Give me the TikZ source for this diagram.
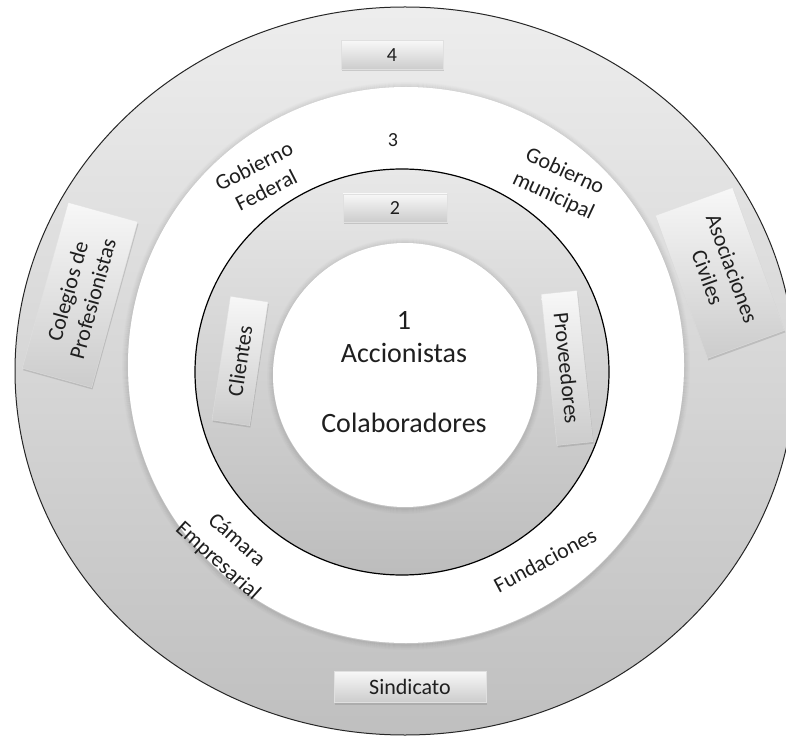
\documentclass[tikz,border=0pt]{standalone}
\usepackage{fontspec}
\setmainfont{Carlito}
\usetikzlibrary{shadows}
\begin{document}
\begin{tikzpicture}[x=1pt,y=1pt,
  lbl/.style={font=\fontsize{22}{27}\selectfont, text=black!88, align=center, inner sep=0pt},
  bigtxt/.style={font=\fontsize{28}{32}\selectfont, text=black!88, inner sep=0pt},
  numtxt/.style={font=\fontsize{20}{24}\selectfont, text=black!88, inner sep=0pt},
  tagbox/.style={rectangle, top color=white!97!black, bottom color=black!20, draw=black!12, line width=0.3pt,
    font=\fontsize{22}{26}\selectfont, text=black!88, align=center, inner sep=0pt,
    drop shadow={opacity=0.3, shadow xshift=0.8pt, shadow yshift=-2pt}},
  numbox/.style={tagbox, font=\fontsize{20}{24}\selectfont},
  softedge/.style={black, line width=1.1pt}
]
\useasboundingbox (0,0) rectangle (786,737);
\fill[white] (0,0) rectangle (786,737);
% outer ring
\path[top color=black!7, bottom color=black!25, draw=black!85, line width=1pt]
  (405,366) ellipse [x radius=390pt, y radius=364pt];
% soft shadow of the white ring
\foreach \k in {1,...,6}
  \draw[softedge, opacity={0.10-0.015*\k}] (406,371) circle [radius=277.5pt+\k*1pt];
\fill[white] (406,372) circle [radius=278pt];
% middle ring
\path[top color=black!9, bottom color=black!26, draw=black, line width=1.2pt]
  (402,365) ellipse [x radius=207pt, y radius=203pt];
% soft shadow of the inner disk
\foreach \k in {1,...,6}
  \draw[softedge, opacity={0.10-0.015*\k}] (405,361) circle [radius=131.5pt+\k*1pt];
\fill[white] (405,362) circle [radius=132pt];

% inner disk text
\node[bigtxt] (one) at (404,417) {1};
\node[bigtxt] (acc) at (404,384) {Accionistas};
\node[bigtxt] (col) at (404,314) {Colaboradores};

% ring 2 boxes
\node[numbox, minimum width=104pt, minimum height=28pt] (two) at (395,529) {2};
\node[tagbox, minimum width=125pt, minimum height=38pt, rotate=81.5] (cli) at (240,376) {Clientes};
\node[tagbox, minimum width=152pt, minimum height=36pt, rotate=-84] (pro) at (567,369) {Proveedores};

% ring 3 labels
\node[numtxt] (three) at (393,597) {3};
\node[lbl, rotate=27] (gfed) at (260,559) {Gobierno\\Federal};
\node[lbl, rotate=-25] (gmun) at (559,553) {Gobierno\\municipal};
\node[lbl, rotate=-42, font=\fontsize{22}{28}\selectfont] (cam) at (227,186) {Cámara\\Empresarial};
\node[lbl, rotate=28] (fun) at (545,177) {Fundaciones};

% ring 4 boxes
\node[numbox, minimum width=102pt, minimum height=29pt] (four) at (392,682) {4};
\node[tagbox, minimum width=172pt, minimum height=72pt, rotate=74.5] (cole) at (80,442) {Colegios de\\Profesionistas};
\node[tagbox, minimum width=152pt, minimum height=82pt, rotate=-70] (aso) at (720,464) {Asociaciones\\Civiles};
\node[tagbox, minimum width=152pt, minimum height=31pt] (sin) at (410,50) {Sindicato};
\end{tikzpicture}
\end{document}
